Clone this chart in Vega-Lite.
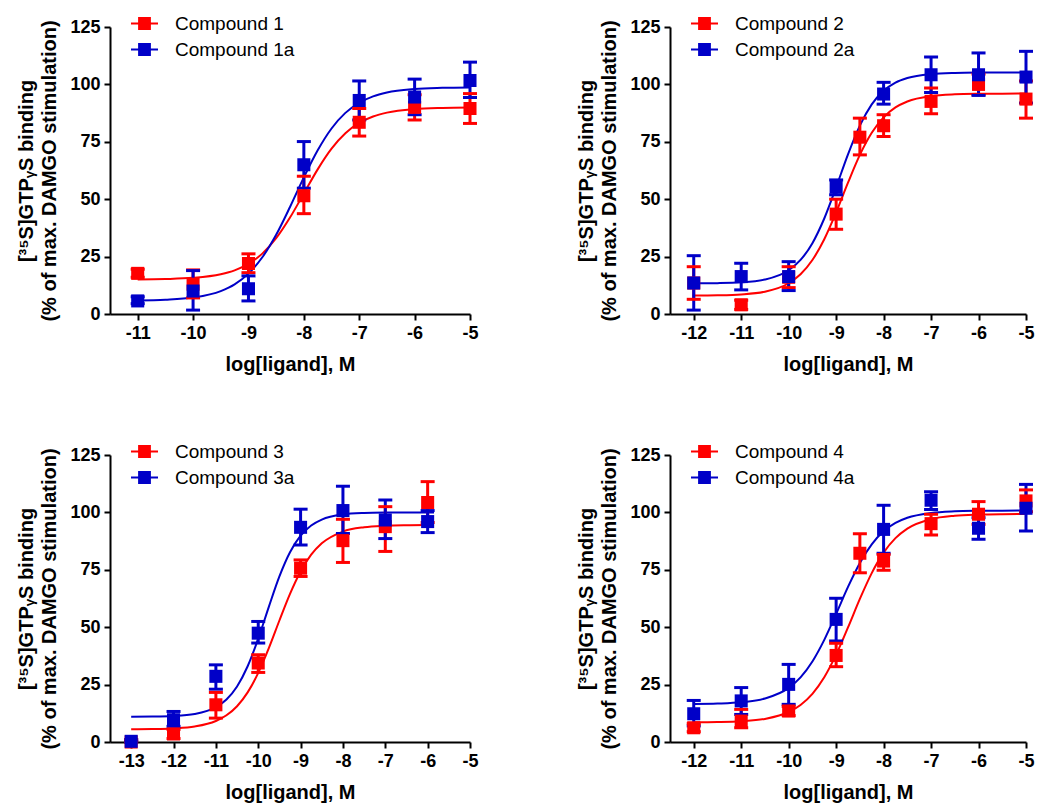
{
  "$schema": "https://vega.github.io/schema/vega-lite/v6.json",
  "padding": {"left": 16, "top": 9, "right": 5, "bottom": 5},
  "background": "white",
  "config": {
    "view": {"stroke": null},
    "axis": {"domainColor": "black", "domainWidth": 2, "tickColor": "black", "tickWidth": 2, "tickSize": 6, "labelFont": "Liberation Sans", "labelFontSize": 18, "labelFontWeight": "bold", "labelColor": "black", "titleFont": "Liberation Sans", "titleFontSize": 20, "titleFontWeight": "bold", "titleColor": "black", "grid": false, "labelPadding": 4},
    "axisX": {"titlePadding": 12, "labelFlush": false},
    "axisY": {"titlePadding": 10, "titleLineHeight": 23},
    "tick": {"opacity": 1},
    "legend": {"labelFont": "Liberation Sans", "labelFontSize": 19, "labelColor": "black", "labelOffset": 16, "rowPadding": 1, "padding": 0}
  },
  "datasets": {
    "p1": [
      {"s": "Compound 1", "x": -11, "y": 17.7, "lo": 16, "hi": 19.5},
      {"s": "Compound 1", "x": -10, "y": 13, "lo": 7, "hi": 19.2},
      {"s": "Compound 1", "x": -9, "y": 22, "lo": 18, "hi": 26.2},
      {"s": "Compound 1", "x": -8, "y": 51.5, "lo": 43.7, "hi": 60},
      {"s": "Compound 1", "x": -7, "y": 83.5, "lo": 77.5, "hi": 89.5},
      {"s": "Compound 1", "x": -6, "y": 90, "lo": 84.5, "hi": 95.5},
      {"s": "Compound 1", "x": -5, "y": 89.5, "lo": 83, "hi": 96},
      {"s": "Compound 1a", "x": -11, "y": 5.7, "lo": 4.5, "hi": 7.5},
      {"s": "Compound 1a", "x": -10, "y": 10, "lo": 1.7, "hi": 18.9},
      {"s": "Compound 1a", "x": -9, "y": 11, "lo": 5.7, "hi": 16.6},
      {"s": "Compound 1a", "x": -8, "y": 65, "lo": 54.8, "hi": 75.1},
      {"s": "Compound 1a", "x": -7, "y": 93, "lo": 84.5, "hi": 101.5},
      {"s": "Compound 1a", "x": -6, "y": 94.5, "lo": 86.8, "hi": 102.3},
      {"s": "Compound 1a", "x": -5, "y": 101.7, "lo": 94.3, "hi": 109.7}
    ],
    "p1c": [
      {"s": "Compound 1", "x": -11, "y": 15.07}, {"s": "Compound 1", "x": -10.5, "y": 15.24}, {"s": "Compound 1", "x": -10, "y": 15.74}, {"s": "Compound 1", "x": -9.5, "y": 17.3}, {"s": "Compound 1", "x": -9.25, "y": 19.0}, {"s": "Compound 1", "x": -9, "y": 21.82}, {"s": "Compound 1", "x": -8.75, "y": 26.3}, {"s": "Compound 1", "x": -8.5, "y": 33.0}, {"s": "Compound 1", "x": -8.25, "y": 42.0}, {"s": "Compound 1", "x": -8, "y": 52.5}, {"s": "Compound 1", "x": -7.75, "y": 63.0}, {"s": "Compound 1", "x": -7.5, "y": 72.0}, {"s": "Compound 1", "x": -7.25, "y": 78.7}, {"s": "Compound 1", "x": -7, "y": 83.2}, {"s": "Compound 1", "x": -6.75, "y": 86.0}, {"s": "Compound 1", "x": -6.5, "y": 87.7}, {"s": "Compound 1", "x": -6, "y": 89.26}, {"s": "Compound 1", "x": -5.5, "y": 89.76}, {"s": "Compound 1", "x": -5, "y": 89.93},
      {"s": "Compound 1a", "x": -11, "y": 5.86}, {"s": "Compound 1a", "x": -10.5, "y": 6.18}, {"s": "Compound 1a", "x": -10, "y": 7.14}, {"s": "Compound 1a", "x": -9.5, "y": 9.96}, {"s": "Compound 1a", "x": -9.25, "y": 12.9}, {"s": "Compound 1a", "x": -9, "y": 17.6}, {"s": "Compound 1a", "x": -8.75, "y": 24.7}, {"s": "Compound 1a", "x": -8.5, "y": 34.5}, {"s": "Compound 1a", "x": -8.25, "y": 46.6}, {"s": "Compound 1a", "x": -8, "y": 59.5}, {"s": "Compound 1a", "x": -7.75, "y": 71.3}, {"s": "Compound 1a", "x": -7.5, "y": 80.8}, {"s": "Compound 1a", "x": -7.25, "y": 87.6}, {"s": "Compound 1a", "x": -7, "y": 92.0}, {"s": "Compound 1a", "x": -6.75, "y": 94.8}, {"s": "Compound 1a", "x": -6.5, "y": 96.5}, {"s": "Compound 1a", "x": -6, "y": 98.0}, {"s": "Compound 1a", "x": -5.5, "y": 98.5}, {"s": "Compound 1a", "x": -5, "y": 98.7}
    ],
    "p2": [
      {"s": "Compound 2", "x": -12, "y": 13.5, "lo": 6.4, "hi": 20.6},
      {"s": "Compound 2", "x": -11, "y": 4, "lo": 2, "hi": 6},
      {"s": "Compound 2", "x": -10, "y": 16, "lo": 11.5, "hi": 20.6},
      {"s": "Compound 2", "x": -9, "y": 43.5, "lo": 36.9, "hi": 50},
      {"s": "Compound 2", "x": -8.5, "y": 77, "lo": 69.3, "hi": 85.3},
      {"s": "Compound 2", "x": -8, "y": 82, "lo": 77.3, "hi": 86.8},
      {"s": "Compound 2", "x": -7, "y": 92.6, "lo": 87.2, "hi": 98.4},
      {"s": "Compound 2", "x": -6, "y": 100, "lo": 95.5, "hi": 104.5},
      {"s": "Compound 2", "x": -5, "y": 93.6, "lo": 85.3, "hi": 101.5},
      {"s": "Compound 2a", "x": -12, "y": 13.5, "lo": 1.7, "hi": 25.4},
      {"s": "Compound 2a", "x": -11, "y": 16.3, "lo": 10.5, "hi": 22.1},
      {"s": "Compound 2a", "x": -10, "y": 16.3, "lo": 10.2, "hi": 22.8},
      {"s": "Compound 2a", "x": -9, "y": 55.2, "lo": 51.9, "hi": 58.4},
      {"s": "Compound 2a", "x": -8, "y": 95.8, "lo": 91.4, "hi": 100.9},
      {"s": "Compound 2a", "x": -7, "y": 104.2, "lo": 96.5, "hi": 111.9},
      {"s": "Compound 2a", "x": -6, "y": 104.2, "lo": 95.2, "hi": 113.7},
      {"s": "Compound 2a", "x": -5, "y": 103.2, "lo": 91.9, "hi": 114.4}
    ],
    "p2c": [
      {"s": "Compound 2", "x": -12, "y": 8.05}, {"s": "Compound 2", "x": -11.5, "y": 8.16}, {"s": "Compound 2", "x": -11, "y": 8.53}, {"s": "Compound 2", "x": -10.5, "y": 9.72}, {"s": "Compound 2", "x": -10, "y": 13.4}, {"s": "Compound 2", "x": -9.75, "y": 17.31}, {"s": "Compound 2", "x": -9.5, "y": 23.51}, {"s": "Compound 2", "x": -9.25, "y": 32.57}, {"s": "Compound 2", "x": -9, "y": 44.26}, {"s": "Compound 2", "x": -8.75, "y": 57.19}, {"s": "Compound 2", "x": -8.5, "y": 69.28}, {"s": "Compound 2", "x": -8.25, "y": 78.91}, {"s": "Compound 2", "x": -8, "y": 85.66}, {"s": "Compound 2", "x": -7.75, "y": 89.97}, {"s": "Compound 2", "x": -7.5, "y": 92.56}, {"s": "Compound 2", "x": -7, "y": 94.92}, {"s": "Compound 2", "x": -6.5, "y": 95.67}, {"s": "Compound 2", "x": -6, "y": 95.9}, {"s": "Compound 2", "x": -5.5, "y": 95.97}, {"s": "Compound 2", "x": -5, "y": 95.99},
      {"s": "Compound 2a", "x": -12, "y": 13.34}, {"s": "Compound 2a", "x": -11.5, "y": 13.44}, {"s": "Compound 2a", "x": -11, "y": 13.78}, {"s": "Compound 2a", "x": -10.5, "y": 14.99}, {"s": "Compound 2a", "x": -10, "y": 19.03}, {"s": "Compound 2a", "x": -9.75, "y": 23.54}, {"s": "Compound 2a", "x": -9.5, "y": 30.85}, {"s": "Compound 2a", "x": -9.25, "y": 41.59}, {"s": "Compound 2a", "x": -9, "y": 55.19}, {"s": "Compound 2a", "x": -8.75, "y": 69.54}, {"s": "Compound 2a", "x": -8.5, "y": 82.06}, {"s": "Compound 2a", "x": -8.25, "y": 91.28}, {"s": "Compound 2a", "x": -8, "y": 97.24}, {"s": "Compound 2a", "x": -7.75, "y": 100.79}, {"s": "Compound 2a", "x": -7.5, "y": 102.81}, {"s": "Compound 2a", "x": -7, "y": 104.51}, {"s": "Compound 2a", "x": -6.5, "y": 105.0}, {"s": "Compound 2a", "x": -6, "y": 105.15}, {"s": "Compound 2a", "x": -5.5, "y": 105.19}, {"s": "Compound 2a", "x": -5, "y": 105.2}
    ],
    "p3": [
      {"s": "Compound 3", "x": -13, "y": 0, "lo": 0, "hi": 1},
      {"s": "Compound 3", "x": -12, "y": 3.5, "lo": 1.5, "hi": 5.5},
      {"s": "Compound 3", "x": -11, "y": 16.2, "lo": 10.4, "hi": 21.6},
      {"s": "Compound 3", "x": -10, "y": 34.4, "lo": 30.3, "hi": 38},
      {"s": "Compound 3", "x": -9, "y": 75.7, "lo": 72.1, "hi": 79.3},
      {"s": "Compound 3", "x": -8, "y": 87.7, "lo": 78.2, "hi": 97},
      {"s": "Compound 3", "x": -7, "y": 93.8, "lo": 83, "hi": 102.5},
      {"s": "Compound 3", "x": -6, "y": 104.3, "lo": 95.6, "hi": 113.4},
      {"s": "Compound 3a", "x": -13, "y": 0.3, "lo": 0, "hi": 1},
      {"s": "Compound 3a", "x": -12, "y": 9.7, "lo": 6.8, "hi": 13.3},
      {"s": "Compound 3a", "x": -11, "y": 28.6, "lo": 23, "hi": 33.6},
      {"s": "Compound 3a", "x": -10, "y": 47.4, "lo": 43.1, "hi": 52.5},
      {"s": "Compound 3a", "x": -9, "y": 93.5, "lo": 85.8, "hi": 101.4},
      {"s": "Compound 3a", "x": -8, "y": 100.8, "lo": 90.8, "hi": 111.4},
      {"s": "Compound 3a", "x": -7, "y": 96.7, "lo": 88.6, "hi": 105.4},
      {"s": "Compound 3a", "x": -6, "y": 96, "lo": 91.2, "hi": 100.8}
    ],
    "p3c": [
      {"s": "Compound 3", "x": -13, "y": 5.55}, {"s": "Compound 3", "x": -12.5, "y": 5.64}, {"s": "Compound 3", "x": -12, "y": 5.93}, {"s": "Compound 3", "x": -11.5, "y": 6.76}, {"s": "Compound 3", "x": -11, "y": 9.16}, {"s": "Compound 3", "x": -10.75, "y": 11.64}, {"s": "Compound 3", "x": -10.5, "y": 15.59}, {"s": "Compound 3", "x": -10.25, "y": 21.61}, {"s": "Compound 3", "x": -10, "y": 30.1}, {"s": "Compound 3", "x": -9.75, "y": 40.88}, {"s": "Compound 3", "x": -9.5, "y": 52.92}, {"s": "Compound 3", "x": -9.25, "y": 64.53}, {"s": "Compound 3", "x": -9, "y": 74.29}, {"s": "Compound 3", "x": -8.75, "y": 81.57}, {"s": "Compound 3", "x": -8.5, "y": 86.53}, {"s": "Compound 3", "x": -8, "y": 91.65}, {"s": "Compound 3", "x": -7.5, "y": 93.53}, {"s": "Compound 3", "x": -7, "y": 94.17}, {"s": "Compound 3", "x": -6.5, "y": 94.39}, {"s": "Compound 3", "x": -6, "y": 94.46}, {"s": "Compound 3", "x": -5.85, "y": 94.47},
      {"s": "Compound 3a", "x": -13, "y": 11.03}, {"s": "Compound 3a", "x": -12.5, "y": 11.1}, {"s": "Compound 3a", "x": -12, "y": 11.35}, {"s": "Compound 3a", "x": -11.5, "y": 12.21}, {"s": "Compound 3a", "x": -11, "y": 15.17}, {"s": "Compound 3a", "x": -10.75, "y": 18.54}, {"s": "Compound 3a", "x": -10.5, "y": 24.2}, {"s": "Compound 3a", "x": -10.25, "y": 32.98}, {"s": "Compound 3a", "x": -10, "y": 45.0}, {"s": "Compound 3a", "x": -9.75, "y": 58.88}, {"s": "Compound 3a", "x": -9.5, "y": 72.13}, {"s": "Compound 3a", "x": -9.25, "y": 82.65}, {"s": "Compound 3a", "x": -9, "y": 89.86}, {"s": "Compound 3a", "x": -8.75, "y": 94.31}, {"s": "Compound 3a", "x": -8.5, "y": 96.89}, {"s": "Compound 3a", "x": -8, "y": 99.1}, {"s": "Compound 3a", "x": -7.5, "y": 99.74}, {"s": "Compound 3a", "x": -7, "y": 99.93}, {"s": "Compound 3a", "x": -6.5, "y": 99.98}, {"s": "Compound 3a", "x": -6, "y": 100}, {"s": "Compound 3a", "x": -5.85, "y": 100}
    ],
    "p4": [
      {"s": "Compound 4", "x": -12, "y": 6.2, "lo": 4.5, "hi": 8},
      {"s": "Compound 4", "x": -11, "y": 9.1, "lo": 6.2, "hi": 14.2},
      {"s": "Compound 4", "x": -10, "y": 13.5, "lo": 11.5, "hi": 15.5},
      {"s": "Compound 4", "x": -9, "y": 37.7, "lo": 32.8, "hi": 43},
      {"s": "Compound 4", "x": -8.5, "y": 82.2, "lo": 73.7, "hi": 90.7},
      {"s": "Compound 4", "x": -8, "y": 78.8, "lo": 74.8, "hi": 81.7},
      {"s": "Compound 4", "x": -7, "y": 95.1, "lo": 90.2, "hi": 99.2},
      {"s": "Compound 4", "x": -6, "y": 99.2, "lo": 94.8, "hi": 104.7},
      {"s": "Compound 4", "x": -5, "y": 105, "lo": 100.3, "hi": 109.8},
      {"s": "Compound 4a", "x": -12, "y": 12.3, "lo": 7, "hi": 18.1},
      {"s": "Compound 4a", "x": -11, "y": 17.9, "lo": 12, "hi": 23.7},
      {"s": "Compound 4a", "x": -10, "y": 25.1, "lo": 16.4, "hi": 33.8},
      {"s": "Compound 4a", "x": -9, "y": 53.4, "lo": 44, "hi": 62.6},
      {"s": "Compound 4a", "x": -8, "y": 92.6, "lo": 82.2, "hi": 103.1},
      {"s": "Compound 4a", "x": -7, "y": 105.3, "lo": 101.3, "hi": 109},
      {"s": "Compound 4a", "x": -6, "y": 93.1, "lo": 88.3, "hi": 97.7},
      {"s": "Compound 4a", "x": -5, "y": 101.8, "lo": 91.9, "hi": 112.2}
    ],
    "p4c": [
      {"s": "Compound 4", "x": -12, "y": 8.56}, {"s": "Compound 4", "x": -11.5, "y": 8.67}, {"s": "Compound 4", "x": -11, "y": 9.02}, {"s": "Compound 4", "x": -10.5, "y": 10.06}, {"s": "Compound 4", "x": -10, "y": 13.06}, {"s": "Compound 4", "x": -9.75, "y": 16.14}, {"s": "Compound 4", "x": -9.5, "y": 20.99}, {"s": "Compound 4", "x": -9.25, "y": 28.21}, {"s": "Compound 4", "x": -9, "y": 38.03}, {"s": "Compound 4", "x": -8.75, "y": 49.89}, {"s": "Compound 4", "x": -8.5, "y": 62.32}, {"s": "Compound 4", "x": -8.25, "y": 73.57}, {"s": "Compound 4", "x": -8, "y": 82.47}, {"s": "Compound 4", "x": -7.75, "y": 88.79}, {"s": "Compound 4", "x": -7.5, "y": 92.94}, {"s": "Compound 4", "x": -7, "y": 97.09}, {"s": "Compound 4", "x": -6.5, "y": 98.56}, {"s": "Compound 4", "x": -6, "y": 99.05}, {"s": "Compound 4", "x": -5.5, "y": 99.22}, {"s": "Compound 4", "x": -5, "y": 99.27},
      {"s": "Compound 4a", "x": -12, "y": 16.58}, {"s": "Compound 4a", "x": -11.5, "y": 16.76}, {"s": "Compound 4a", "x": -11, "y": 17.3}, {"s": "Compound 4a", "x": -10.5, "y": 18.92}, {"s": "Compound 4a", "x": -10, "y": 23.56}, {"s": "Compound 4a", "x": -9.75, "y": 28.17}, {"s": "Compound 4a", "x": -9.5, "y": 35.07}, {"s": "Compound 4a", "x": -9.25, "y": 44.47}, {"s": "Compound 4a", "x": -9, "y": 55.79}, {"s": "Compound 4a", "x": -8.75, "y": 67.54}, {"s": "Compound 4a", "x": -8.5, "y": 78.0}, {"s": "Compound 4a", "x": -8.25, "y": 86.11}, {"s": "Compound 4a", "x": -8, "y": 91.77}, {"s": "Compound 4a", "x": -7.75, "y": 95.41}, {"s": "Compound 4a", "x": -7.5, "y": 97.65}, {"s": "Compound 4a", "x": -7, "y": 99.75}, {"s": "Compound 4a", "x": -6.5, "y": 100.46}, {"s": "Compound 4a", "x": -6, "y": 100.69}, {"s": "Compound 4a", "x": -5.5, "y": 100.77}, {"s": "Compound 4a", "x": -5, "y": 100.79}
    ]
  },
  "spacing": 63,
  "resolve": {"scale": {"x": "independent", "y": "independent", "fill": "independent", "stroke": "independent"}, "legend": {"fill": "independent", "stroke": "independent"}},
  "vconcat": [
    {
      "spacing": 97,
      "resolve": {"scale": {"x": "independent", "y": "independent", "fill": "independent", "stroke": "independent"}, "legend": {"fill": "independent", "stroke": "independent"}},
      "hconcat": [
        {
          "width": 360, "height": 287,
          "data": {"name": "p1"},
          "layer": [
            {"data": {"name": "p1c"}, "mark": {"type": "line", "strokeWidth": 2, "interpolate": "monotone"},
             "encoding": {
               "x": {"field": "x", "type": "quantitative", "scale": {"domain": [-11.5, -5], "nice": false, "zero": false}, "axis": {"values": [-11, -10, -9, -8, -7, -6, -5], "title": "log[ligand], M", "labelExpr": "'-' + abs(datum.value)"}},
               "y": {"field": "y", "type": "quantitative", "scale": {"domain": [0, 125], "nice": false}, "axis": {"values": [0, 25, 50, 75, 100, 125], "title": ["[³⁵S]GTPᵧS binding", "(% of max. DAMGO stimulation)"]}},
               "stroke": {"field": "s", "type": "nominal", "scale": {"domain": ["Compound 1", "Compound 1a"], "range": ["#FF0000", "#0000C8"]}, "legend": {"title": null, "orient": "none", "legendX": 20, "legendY": -18, "direction": "vertical", "symbolType": "M-1,0H1M-0.4,-0.4H0.4V0.4H-0.4Z", "symbolSize": 729, "symbolStrokeWidth": 2}}
             }},
            {"mark": {"type": "rule", "strokeWidth": 3},
             "encoding": {"x": {"field": "x", "type": "quantitative"}, "y": {"field": "lo", "type": "quantitative"}, "y2": {"field": "hi"}, "stroke": {"field": "s", "type": "nominal"}}},
            {"mark": {"type": "tick", "orient": "horizontal", "size": 14, "thickness": 3, "opacity": 1},
             "encoding": {"x": {"field": "x", "type": "quantitative"}, "y": {"field": "lo", "type": "quantitative"}, "fill": {"field": "s", "type": "nominal"}}},
            {"mark": {"type": "tick", "orient": "horizontal", "size": 14, "thickness": 3, "opacity": 1},
             "encoding": {"x": {"field": "x", "type": "quantitative"}, "y": {"field": "hi", "type": "quantitative"}, "fill": {"field": "s", "type": "nominal"}}},
            {"mark": {"type": "square", "size": 170, "opacity": 1, "filled": true},
             "encoding": {"x": {"field": "x", "type": "quantitative"}, "y": {"field": "y", "type": "quantitative"},
               "fill": {"field": "s", "type": "nominal", "scale": {"domain": ["Compound 1", "Compound 1a"], "range": ["#FF0000", "#0000C8"]}, "legend": {"title": null, "orient": "none", "legendX": 20, "legendY": -18, "direction": "vertical", "symbolType": "M-1,0H1M-0.4,-0.4H0.4V0.4H-0.4Z", "symbolSize": 729, "symbolStrokeWidth": 2}}}}
          ]
        },
        {
          "width": 356, "height": 287,
          "data": {"name": "p2"},
          "layer": [
            {"data": {"name": "p2c"}, "mark": {"type": "line", "strokeWidth": 2, "interpolate": "monotone"},
             "encoding": {
               "x": {"field": "x", "type": "quantitative", "scale": {"domain": [-12.5, -5], "nice": false, "zero": false}, "axis": {"values": [-12, -11, -10, -9, -8, -7, -6, -5], "title": "log[ligand], M", "labelExpr": "'-' + abs(datum.value)"}},
               "y": {"field": "y", "type": "quantitative", "scale": {"domain": [0, 125], "nice": false}, "axis": {"values": [0, 25, 50, 75, 100, 125], "title": ["[³⁵S]GTPᵧS binding", "(% of max. DAMGO stimulation)"]}},
               "stroke": {"field": "s", "type": "nominal", "scale": {"domain": ["Compound 2", "Compound 2a"], "range": ["#FF0000", "#0000C8"]}, "legend": {"title": null, "orient": "none", "legendX": 20, "legendY": -18, "direction": "vertical", "symbolType": "M-1,0H1M-0.4,-0.4H0.4V0.4H-0.4Z", "symbolSize": 729, "symbolStrokeWidth": 2}}
             }},
            {"mark": {"type": "rule", "strokeWidth": 3},
             "encoding": {"x": {"field": "x", "type": "quantitative"}, "y": {"field": "lo", "type": "quantitative"}, "y2": {"field": "hi"}, "stroke": {"field": "s", "type": "nominal"}}},
            {"mark": {"type": "tick", "orient": "horizontal", "size": 14, "thickness": 3, "opacity": 1},
             "encoding": {"x": {"field": "x", "type": "quantitative"}, "y": {"field": "lo", "type": "quantitative"}, "fill": {"field": "s", "type": "nominal"}}},
            {"mark": {"type": "tick", "orient": "horizontal", "size": 14, "thickness": 3, "opacity": 1},
             "encoding": {"x": {"field": "x", "type": "quantitative"}, "y": {"field": "hi", "type": "quantitative"}, "fill": {"field": "s", "type": "nominal"}}},
            {"mark": {"type": "square", "size": 170, "opacity": 1, "filled": true},
             "encoding": {"x": {"field": "x", "type": "quantitative"}, "y": {"field": "y", "type": "quantitative"},
               "fill": {"field": "s", "type": "nominal", "scale": {"domain": ["Compound 2", "Compound 2a"], "range": ["#FF0000", "#0000C8"]}, "legend": {"title": null, "orient": "none", "legendX": 20, "legendY": -18, "direction": "vertical", "symbolType": "M-1,0H1M-0.4,-0.4H0.4V0.4H-0.4Z", "symbolSize": 729, "symbolStrokeWidth": 2}}}}
          ]
        }
      ]
    },
    {
      "spacing": 97,
      "resolve": {"scale": {"x": "independent", "y": "independent", "fill": "independent", "stroke": "independent"}, "legend": {"fill": "independent", "stroke": "independent"}},
      "hconcat": [
        {
          "width": 360, "height": 287,
          "data": {"name": "p3"},
          "layer": [
            {"data": {"name": "p3c"}, "mark": {"type": "line", "strokeWidth": 2, "interpolate": "monotone"},
             "encoding": {
               "x": {"field": "x", "type": "quantitative", "scale": {"domain": [-13.5, -5], "nice": false, "zero": false}, "axis": {"values": [-13, -12, -11, -10, -9, -8, -7, -6, -5], "title": "log[ligand], M", "labelExpr": "'-' + abs(datum.value)"}},
               "y": {"field": "y", "type": "quantitative", "scale": {"domain": [0, 125], "nice": false}, "axis": {"values": [0, 25, 50, 75, 100, 125], "title": ["[³⁵S]GTPᵧS binding", "(% of max. DAMGO stimulation)"]}},
               "stroke": {"field": "s", "type": "nominal", "scale": {"domain": ["Compound 3", "Compound 3a"], "range": ["#FF0000", "#0000C8"]}, "legend": {"title": null, "orient": "none", "legendX": 20, "legendY": -18, "direction": "vertical", "symbolType": "M-1,0H1M-0.4,-0.4H0.4V0.4H-0.4Z", "symbolSize": 729, "symbolStrokeWidth": 2}}
             }},
            {"mark": {"type": "rule", "strokeWidth": 3},
             "encoding": {"x": {"field": "x", "type": "quantitative"}, "y": {"field": "lo", "type": "quantitative"}, "y2": {"field": "hi"}, "stroke": {"field": "s", "type": "nominal"}}},
            {"mark": {"type": "tick", "orient": "horizontal", "size": 14, "thickness": 3, "opacity": 1},
             "encoding": {"x": {"field": "x", "type": "quantitative"}, "y": {"field": "lo", "type": "quantitative"}, "fill": {"field": "s", "type": "nominal"}}},
            {"mark": {"type": "tick", "orient": "horizontal", "size": 14, "thickness": 3, "opacity": 1},
             "encoding": {"x": {"field": "x", "type": "quantitative"}, "y": {"field": "hi", "type": "quantitative"}, "fill": {"field": "s", "type": "nominal"}}},
            {"mark": {"type": "square", "size": 170, "opacity": 1, "filled": true},
             "encoding": {"x": {"field": "x", "type": "quantitative"}, "y": {"field": "y", "type": "quantitative"},
               "fill": {"field": "s", "type": "nominal", "scale": {"domain": ["Compound 3", "Compound 3a"], "range": ["#FF0000", "#0000C8"]}, "legend": {"title": null, "orient": "none", "legendX": 20, "legendY": -18, "direction": "vertical", "symbolType": "M-1,0H1M-0.4,-0.4H0.4V0.4H-0.4Z", "symbolSize": 729, "symbolStrokeWidth": 2}}}}
          ]
        },
        {
          "width": 356, "height": 287,
          "data": {"name": "p4"},
          "layer": [
            {"data": {"name": "p4c"}, "mark": {"type": "line", "strokeWidth": 2, "interpolate": "monotone"},
             "encoding": {
               "x": {"field": "x", "type": "quantitative", "scale": {"domain": [-12.5, -5], "nice": false, "zero": false}, "axis": {"values": [-12, -11, -10, -9, -8, -7, -6, -5], "title": "log[ligand], M", "labelExpr": "'-' + abs(datum.value)"}},
               "y": {"field": "y", "type": "quantitative", "scale": {"domain": [0, 125], "nice": false}, "axis": {"values": [0, 25, 50, 75, 100, 125], "title": ["[³⁵S]GTPᵧS binding", "(% of max. DAMGO stimulation)"]}},
               "stroke": {"field": "s", "type": "nominal", "scale": {"domain": ["Compound 4", "Compound 4a"], "range": ["#FF0000", "#0000C8"]}, "legend": {"title": null, "orient": "none", "legendX": 20, "legendY": -18, "direction": "vertical", "symbolType": "M-1,0H1M-0.4,-0.4H0.4V0.4H-0.4Z", "symbolSize": 729, "symbolStrokeWidth": 2}}
             }},
            {"mark": {"type": "rule", "strokeWidth": 3},
             "encoding": {"x": {"field": "x", "type": "quantitative"}, "y": {"field": "lo", "type": "quantitative"}, "y2": {"field": "hi"}, "stroke": {"field": "s", "type": "nominal"}}},
            {"mark": {"type": "tick", "orient": "horizontal", "size": 14, "thickness": 3, "opacity": 1},
             "encoding": {"x": {"field": "x", "type": "quantitative"}, "y": {"field": "lo", "type": "quantitative"}, "fill": {"field": "s", "type": "nominal"}}},
            {"mark": {"type": "tick", "orient": "horizontal", "size": 14, "thickness": 3, "opacity": 1},
             "encoding": {"x": {"field": "x", "type": "quantitative"}, "y": {"field": "hi", "type": "quantitative"}, "fill": {"field": "s", "type": "nominal"}}},
            {"mark": {"type": "square", "size": 170, "opacity": 1, "filled": true},
             "encoding": {"x": {"field": "x", "type": "quantitative"}, "y": {"field": "y", "type": "quantitative"},
               "fill": {"field": "s", "type": "nominal", "scale": {"domain": ["Compound 4", "Compound 4a"], "range": ["#FF0000", "#0000C8"]}, "legend": {"title": null, "orient": "none", "legendX": 20, "legendY": -18, "direction": "vertical", "symbolType": "M-1,0H1M-0.4,-0.4H0.4V0.4H-0.4Z", "symbolSize": 729, "symbolStrokeWidth": 2}}}}
          ]
        }
      ]
    }
  ]
}
